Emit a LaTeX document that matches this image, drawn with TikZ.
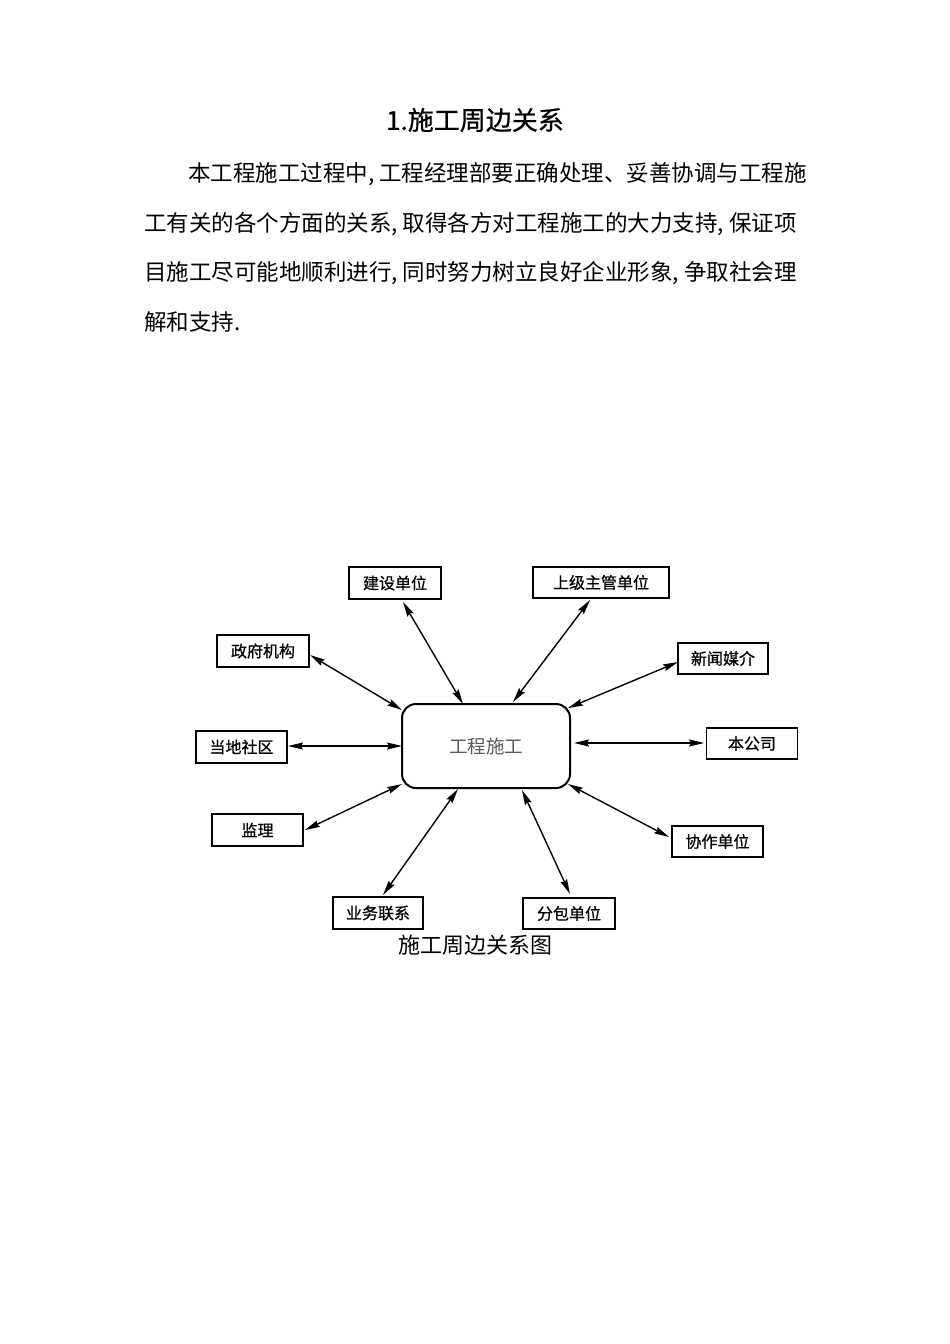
\documentclass[tikz,border=0pt]{standalone}
\usepackage{fontspec}
\setmainfont{Noto Sans CJK SC}
\newfontfamily\heifont[FakeBold=0.7]{Noto Sans CJK SC}
\usetikzlibrary{arrows.meta,calc}
\newcommand\dou{\makebox[0.5em][l]{,}}
\begin{document}
\begin{tikzpicture}[x=1pt,y=-1pt,
  box/.style={draw, line width=1.3pt, minimum width=91pt, minimum height=32pt, inner sep=0pt, font=\heifont\fontsize{16}{16}\selectfont},
  center/.style={draw, line width=2pt, rounded corners=14pt, minimum width=168pt, minimum height=84pt, inner sep=0pt, text=black!65, font=\fontsize{18.5}{18.5}\selectfont},
  arr/.style={{Stealth[length=15pt,width=7pt,inset=2pt]}-{Stealth[length=15pt,width=7pt,inset=2pt]}, line width=1.4pt},
  body/.style={anchor=base west, inner sep=0pt, font=\fontsize{22.5}{22.5}\selectfont}]
\fill[white] (0,0) rectangle (950,1344);
\useasboundingbox (0,0) rectangle (950,1344);

% title and paragraph
\node[inner sep=0pt, font=\heifont\fontsize{26}{26}\selectfont] (title) at (475,120) {1.施工周边关系};
\node[body] (p1) at (188,181.6) {本工程施工过程中\dou 工程经理部要正确处理、妥善协调与工程施};
\node[body] (p2) at (144,231.6) {工有关的各个方面的关系\dou 取得各方对工程施工的大力支持\dou 保证项};
\node[body] (p3) at (144,280.6) {目施工尽可能地顺利进行\dou 同时努力树立良好企业形象\dou 争取社会理};
\node[body] (p4) at (144,330.6) {解和支持.};

% diagram
\node[center] (gc) at (486,746) {工程施工};
\node[box, minimum width=92pt] (jsdw) at (395,583) {建设单位};
\node[box, minimum width=136pt, minimum height=31pt] (sjzg) at (601,582.5) {上级主管单位};
\node[box, minimum width=92pt] (zfjg) at (263,651) {政府机构};
\node[box, minimum width=90pt, minimum height=31pt] (xwmj) at (723,658.5) {新闻媒介};
\node[box] (ddsq) at (241.5,747) {当地社区};
\node[box, minimum height=31pt] (bgs) at (752,743.5) {本公司};
\node[box] (jl) at (257.5,830) {监理};
\node[box, minimum height=31pt] (xzdw) at (717.5,841.5) {协作单位};
\node[box, minimum width=90pt] (ywlx) at (378,913) {业务联系};
\node[box, minimum width=92pt, minimum height=31pt, line width=1.7pt] (fbdw) at (569,913.5) {分包单位};

\draw[arr] ($(jsdw)+(8,19)$) -- ($(gc)+(-23,-42)$);
\draw[arr] ($(sjzg)+(-11,17.5)$) -- ($(gc)+(27,-44)$);
\draw[arr] ($(zfjg)+(47,4)$) -- ($(gc)+(-84,-36)$);
\draw[arr] ($(xwmj)+(-45,3.5)$) -- ($(gc)+(82,-38)$);
\draw[arr] ($(ddsq)+(46.5,-1)$) -- ($(gc)+(-84,0)$);
\draw[arr] ($(bgs)+(-48,-0.5)$) -- ($(gc)+(88,-3)$);
\draw[arr] ($(jl)+(47.5,0)$) -- ($(gc)+(-84,38)$);
\draw[arr] ($(xzdw)+(-48.5,-4.5)$) -- ($(gc)+(82,38)$);
\draw[arr] ($(ywlx)+(5,-18)$) -- ($(gc)+(-28,43)$);
\draw[arr] ($(fbdw)+(1,-19.5)$) -- ($(gc)+(36,44)$);

\node[inner sep=0pt, font=\fontsize{22}{22}\selectfont] (cap) at (475,945) {施工周边关系图};
\end{tikzpicture}
\end{document}
